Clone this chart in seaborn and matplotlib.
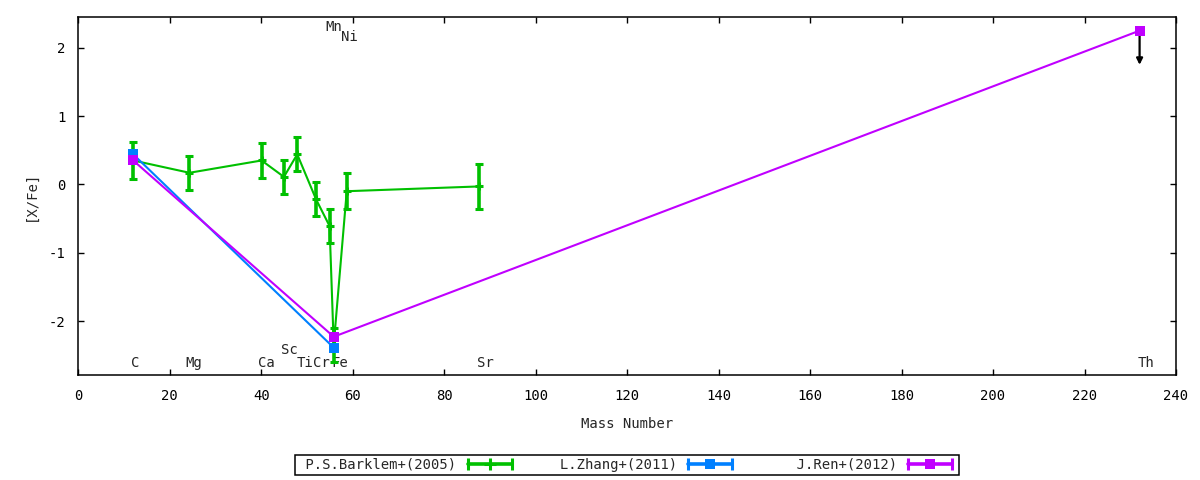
import numpy as np
import pandas as pd
import matplotlib
matplotlib.use("Agg")
import matplotlib.pyplot as plt
import seaborn as sns
from matplotlib.lines import Line2D
from matplotlib.legend_handler import HandlerLine2D, HandlerTuple

# --- data ---
barklem_elem = ["C", "Mg", "Ca", "Sc", "Ti", "Cr", "Mn", "Fe", "Ni", "Sr"]
barklem_mass = [12.011, 24.305, 40.078, 44.956, 47.867, 51.996, 54.938, 55.845, 58.693, 87.62]
barklem_xfe = [0.35, 0.17, 0.35, 0.11, 0.44, -0.22, -0.61, -2.35, -0.10, -0.03]
barklem_err = [0.27, 0.25, 0.25, 0.25, 0.25, 0.25, 0.25, 0.25, 0.26, 0.33]

zhang_mass = [12.011, 55.845]
zhang_xfe = [0.44, -2.39]

ren_mass = [12.011, 55.845, 232.04]
ren_xfe = [0.35, -2.23, 2.25]
ren_limit_to = [None, None, 1.75]   # Th is an upper limit

label_text = ["C", "Mg", "Ca", "Sc", "Ti", "Cr", "Mn", "Fe", "Ni", "Sr", "Th"]
label_x = [12.4, 25.2, 41.2, 46.2, 49.5, 53.1, 55.9, 57.1, 59.2, 88.9, 233.4]
label_y = [-2.62, -2.62, -2.62, -2.43, -2.62, -2.62, 2.31, -2.62, 2.155, -2.62, -2.62]

series_names = ["P.S.Barklem+(2005)", "L.Zhang+(2011)", "J.Ren+(2012)"]
colors = ["#00c000", "#0080ff", "#c000ff"]

df_b = pd.DataFrame({"mass": barklem_mass, "xfe": barklem_xfe, "err": barklem_err})
df_z = pd.DataFrame({"mass": zhang_mass, "xfe": zhang_xfe})
df_r = pd.DataFrame({"mass": ren_mass, "xfe": ren_xfe})

# --- style ---
FS = 10
sns.set_style("ticks")
plt.rcParams["font.family"] = ["DejaVu Sans Mono", "DejaVu Sans"]
plt.rcParams["font.size"] = FS
plt.rcParams["axes.unicode_minus"] = False

fig = plt.figure(figsize=(12, 4.8), dpi=100)
ax = fig.add_axes([0.06525, 0.21875, 0.91475, 0.74583])

# Barklem: line + error bars
sns.lineplot(data=df_b, x="mass", y="xfe", sort=False, estimator=None,
             color=colors[0], lw=1.5, ax=ax, zorder=2)
ax.errorbar(df_b["mass"], df_b["xfe"], yerr=df_b["err"], fmt="+", color=colors[0],
            ms=5.5, mew=2.2, elinewidth=2.6, capsize=2.7, capthick=2.2, zorder=2)

# Zhang
sns.lineplot(data=df_z, x="mass", y="xfe", sort=False, estimator=None,
             color=colors[1], lw=1.5, marker="s", markersize=7, markeredgewidth=0,
             ax=ax, zorder=3)

# Ren
sns.lineplot(data=df_r, x="mass", y="xfe", sort=False, estimator=None,
             color=colors[2], lw=1.5, marker="s", markersize=7, markeredgewidth=0,
             ax=ax, zorder=4)
for m, v, lim in zip(ren_mass, ren_xfe, ren_limit_to):
    if lim is not None:
        ax.annotate("", xy=(m, lim), xytext=(m, v),
                    arrowprops=dict(arrowstyle="-|>", color="black", lw=1.6,
                                    mutation_scale=9, shrinkA=0, shrinkB=0),
                    zorder=3)

# element labels
for t, x, y in zip(label_text, label_x, label_y):
    ax.text(x, y, t, ha="center", va="center", fontsize=FS, zorder=1)

ax.set_xlim(0, 240)
ax.set_ylim(-2.79, 2.45)
ax.set_xticks(np.arange(0, 241, 20))
ax.set_yticks([-2, -1, 0, 1, 2])
ax.tick_params(direction="in", length=4, width=1, top=True, right=True,
               labelsize=FS, colors="black")
ax.tick_params(axis="x", pad=10)
ax.tick_params(axis="y", pad=9)
for sp in ax.spines.values():
    sp.set_visible(True)
    sp.set_linewidth(1.1)
    sp.set_color("black")
ax.set_xlabel("Mass Number", fontsize=FS, labelpad=10)
ax.set_ylabel("[X/Fe]", fontsize=FS, labelpad=8)

# gnuplot style legend: text first, line sample with caps
handles = []
hmap = {}
centers = ["+", "s", "s"]
for c, mk in zip(colors, centers):
    caps = Line2D([], [], color=c, lw=2.6, marker="|", ms=8, mew=2.2)
    mid = Line2D([], [], color=c, ls="none", marker=mk,
                 ms=7 if mk == "s" else 8, mew=2.2 if mk == "+" else 0)
    hmap[caps] = HandlerLine2D(numpoints=2)
    hmap[mid] = HandlerLine2D(numpoints=1)
    handles.append((caps, mid))
hmap[tuple] = HandlerTuple(ndivide=1)
labels = [s.rjust(19) for s in series_names]
leg = fig.legend(handles, labels, handler_map=hmap, ncol=3, markerfirst=False,
                 loc="center", bbox_to_anchor=(0.5225, 0.03125),
                 bbox_transform=fig.transFigure, frameon=True, fancybox=False,
                 edgecolor="black", framealpha=1, borderpad=0.2,
                 handlelength=3.8, handletextpad=0.5, columnspacing=0.1,
                 fontsize=FS)
leg.get_frame().set_linewidth(1.1)

fig.savefig("out.png", dpi=100)
